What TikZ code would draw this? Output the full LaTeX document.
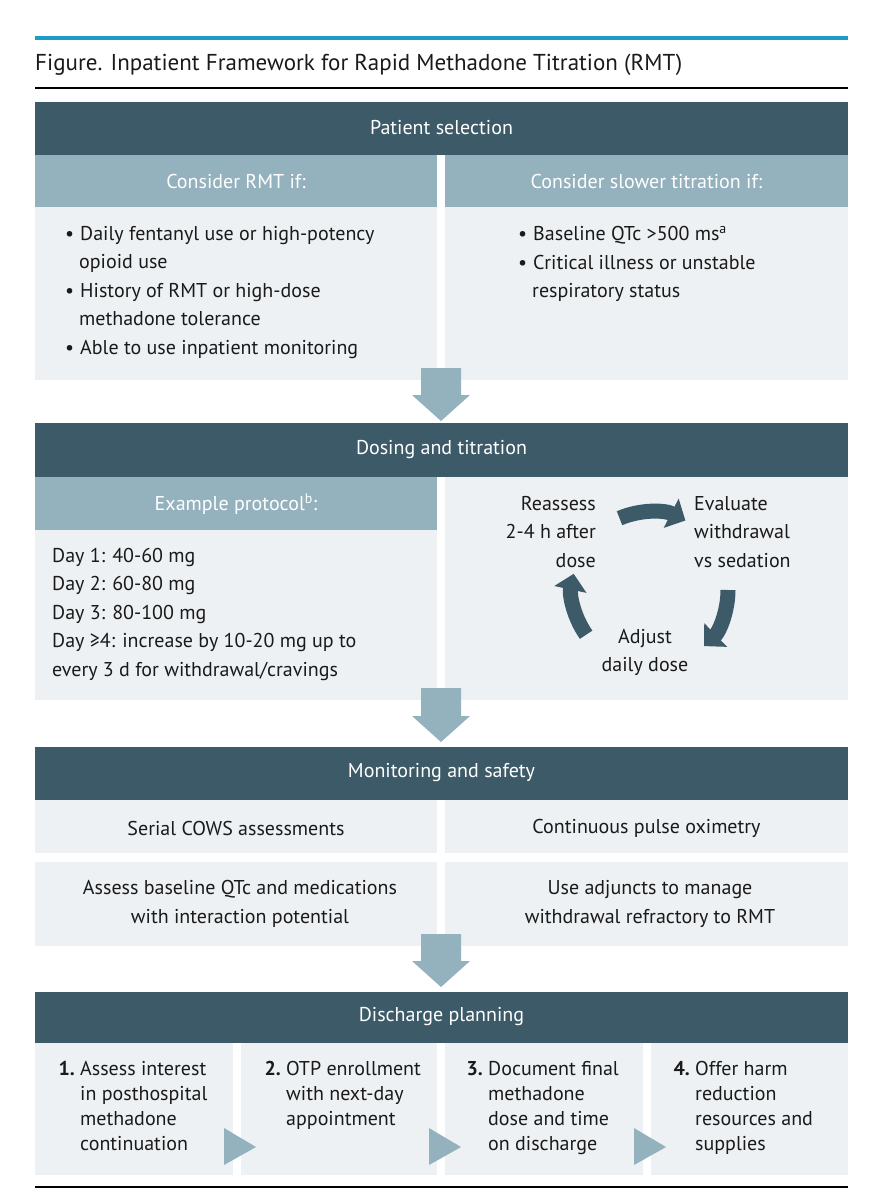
\documentclass[tikz,border=0pt]{standalone}
\usepackage{fontspec}
\setmainfont{PT Sans}
\usetikzlibrary{arrows.meta}
\definecolor{dark}{HTML}{3C5A67}
\definecolor{mid}{HTML}{94B1BE}
\definecolor{light}{HTML}{EEF1F3}
\definecolor{topc}{HTML}{1C9CC8}
\definecolor{txt}{HTML}{1A1A1A}
\begin{document}
\begin{tikzpicture}[x=1pt,y=-1pt,
  hdr/.style={fill=dark},
  sub/.style={fill=mid},
  lt/.style={fill=light},
  wt/.style={text=white,font=\fontsize{20}{24}\selectfont},
  bt/.style={text=txt,font=\fontsize{20}{28.5}\selectfont,inner sep=0pt},
  dn/.style={fill=mid},
  cyc/.style={draw=dark,line width=15pt,-{Triangle[length=16pt,width=32pt]}},
  tri/.style={fill=mid}]
\useasboundingbox (0,0) rectangle (880,1200);
\fill[topc] (35,36) rectangle (848,40);
\node[anchor=west,text=txt,font=\fontsize{23}{26}\selectfont,inner sep=0pt] (title) at (35,65) {Figure. Inpatient Framework for Rapid Methadone Titration (RMT)};
\draw[line width=1.5pt] (35,88) -- (848,88);
% Patient selection
\fill[hdr] (35,102) rectangle (848,155);
\node[wt] (h1) at (441.5,128) {Patient selection};
\fill[sub] (35,155) rectangle (437,207);
\fill[sub] (445,155) rectangle (848,207);
\node[wt] (s1) at (236,181) {Consider RMT if:};
\node[wt] (s2) at (646.5,181) {Consider slower titration if:};
\fill[lt] (35,207) rectangle (437,380);
\fill[lt] (445,207) rectangle (848,380);
\node[bt,anchor=north west,align=left] (l1) at (65,226) {•\hspace{6pt}Daily fentanyl use or high-potency\\\hspace{14pt}opioid use\\•\hspace{6pt}History of RMT or high-dose\\\hspace{14pt}methadone tolerance\\•\hspace{6pt}Able to use inpatient monitoring};
\node[bt,anchor=north west,align=left] (r1) at (518,226) {•\hspace{6pt}Baseline QTc >500 ms\textsuperscript{a}\\•\hspace{6pt}Critical illness or unstable\\\hspace{14pt}respiratory status};
\fill[dn] (421,368) -- (461,368) -- (461,395) -- (470,395) -- (441,421) -- (412,395) -- (421,395) -- cycle;
% Dosing
\fill[hdr] (35,423) rectangle (848,477);
\node[wt] (h2) at (441.5,450) {Dosing and titration};
\fill[sub] (35,477) rectangle (437,530);
\node[wt] (s3) at (236,504) {Example protocol\textsuperscript{b}:};
\fill[lt] (35,530) rectangle (437,700);
\fill[lt] (445,477) rectangle (848,700);
\node[bt,anchor=north west,align=left] (p) at (52,548) {Day 1: 40-60 mg\\Day 2: 60-80 mg\\Day 3: 80-100 mg\\Day ≥4: increase by 10-20 mg up to\\every 3 d for withdrawal/cravings};
\node[bt,anchor=north east,align=right] (c1) at (596,496) {Reassess\\2-4 h after\\dose};
\node[bt,anchor=north west,align=left] (c2) at (694,496) {Evaluate\\withdrawal\\vs sedation};
\node[bt,anchor=north,align=center] (c3) at (645,629) {Adjust\\daily dose};
\draw[cyc] (650,590) ++(-113:78) arc[start angle=-113,end angle=-63,radius=78];
\draw[cyc] (650,590) ++(0:78) arc[start angle=0,end angle=46,radius=78];
\draw[cyc] (650,590) ++(145:78) arc[start angle=145,end angle=192,radius=78];
\fill[dn] (421,688) -- (461,688) -- (461,716) -- (470,716) -- (441,742) -- (412,716) -- (421,716) -- cycle;
% Monitoring
\fill[hdr] (35,747) rectangle (848,800);
\node[wt] (h3) at (441.5,773) {Monitoring and safety};
\fill[lt] (35,800) rectangle (437,853);
\fill[lt] (445,800) rectangle (848,853);
\fill[lt] (35,862) rectangle (437,946);
\fill[lt] (445,862) rectangle (848,946);
\node[bt] (m1) at (236,828) {Serial COWS assessments};
\node[bt] (m2) at (646.5,828) {Continuous pulse oximetry};
\node[bt,align=center] (m3) at (240,904) {Assess baseline QTc and medications\\with interaction potential};
\node[bt,align=center] (m4) at (650,904) {Use adjuncts to manage\\withdrawal refractory to RMT};
\fill[dn] (421,934) -- (461,934) -- (461,961) -- (470,961) -- (441,987) -- (412,961) -- (421,961) -- cycle;
% Discharge
\fill[hdr] (35,992) rectangle (848,1043);
\node[wt] (h4) at (441.5,1017) {Discharge planning};
\fill[lt] (35,1043) rectangle (233,1175);
\fill[lt] (241,1043) rectangle (437,1175);
\fill[lt] (445,1043) rectangle (643,1175);
\fill[lt] (651,1043) rectangle (848,1175);
\tikzset{num/.style={bt,font=\fontsize{20}{25}\selectfont\bfseries,anchor=north east},
  dt/.style={bt,font=\fontsize{20}{25}\selectfont,anchor=north west,align=left}}
\node[num] (n1) at (75,1061) {1.};
\node[dt] (d1) at (80,1061) {Assess interest\\in posthospital\\methadone\\continuation};
\node[num] (n2) at (281,1061) {2.};
\node[dt] (d2) at (286,1061) {OTP enrollment\\with next-day\\appointment};
\node[num] (n3) at (483,1061) {3.};
\node[dt] (d3) at (488,1061) {Document final\\methadone\\dose and time\\on discharge};
\node[num] (n4) at (690,1061) {4.};
\node[dt] (d4) at (695,1061) {Offer harm\\reduction\\resources and\\supplies};
\fill[tri] (224,1128) -- (256,1147) -- (224,1165) -- cycle;
\fill[tri] (429,1128) -- (461,1147) -- (429,1165) -- cycle;
\fill[tri] (634,1128) -- (666,1147) -- (634,1165) -- cycle;
\draw[line width=1.5pt] (35,1187) -- (848,1187);
\end{tikzpicture}
\end{document}
